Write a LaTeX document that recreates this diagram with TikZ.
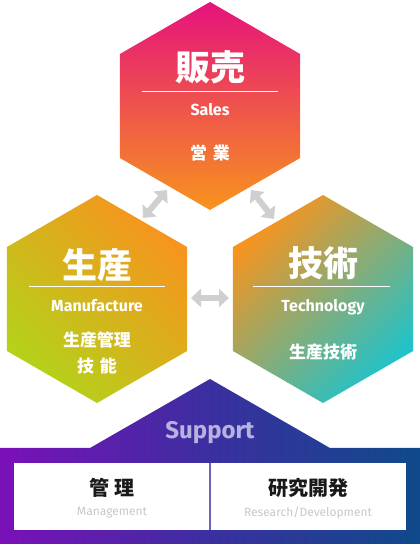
\documentclass[tikz,border=0pt]{standalone}
\usepackage{fontspec}
\setmainfont{Fira Sans}
\newfontfamily\jp{Noto Sans CJK JP}
\usetikzlibrary{arrows.meta}
\definecolor{hexpink}{HTML}{E6127C}
\definecolor{hexorange}{HTML}{F7941D}
\definecolor{hexlime}{HTML}{B4D21A}
\definecolor{hexcyan}{HTML}{1EC3CC}
\definecolor{suppurple}{HTML}{7A10B8}
\definecolor{supblue}{HTML}{0F4A8A}
\definecolor{supmid}{HTML}{3B2FA0}
\definecolor{arrowgray}{HTML}{CFCFCF}
\definecolor{suptext}{HTML}{B8B2E0}
\definecolor{engray}{HTML}{C8C8C8}
\definecolor{divline}{HTML}{6F65B8}
\newcommand\hexpath[1]{(#1) +(90:104) -- +(150:104) -- +(210:104) -- +(270:104) -- +(330:104) -- +(30:104) -- cycle}
\begin{document}
\begin{tikzpicture}[x=1pt,y=1pt,
  title/.style={text=white,font=\jp\bfseries\fontsize{35}{35}\selectfont,inner sep=0pt},
  sub/.style={text=white,font=\bfseries\fontsize{16}{16}\selectfont,inner sep=0pt},
  item/.style={text=white,font=\jp\bfseries\fontsize{17}{17}\selectfont,inner sep=0pt},
  rule/.style={white,line width=1pt},
  link/.style={arrowgray,line width=6pt,{Triangle[width=18pt,length=10pt]}-{Triangle[width=18pt,length=10pt]}},
  boxjp/.style={text=black!90,font=\jp\bfseries\fontsize{20}{20}\selectfont,inner sep=0pt},
  boxen/.style={text=engray,font=\fontsize{12}{12}\selectfont,inner sep=0pt}]
\useasboundingbox (0,0) rectangle (420,544);
\coordinate (sales) at (210,438);
\coordinate (manu) at (97,245);
\coordinate (tech) at (323,245);
\shade[top color=hexpink,bottom color=hexorange] \hexpath{sales};
\shade[top color=hexorange,bottom color=hexlime,shading angle=-45] \hexpath{manu};
\shade[top color=hexorange,bottom color=hexcyan,shading angle=45] \hexpath{tech};
\shade[left color=suppurple,right color=supblue,middle color=supmid]
  (0,0) -- (0,96) -- (90,96) -- (210,165) -- (330,96) -- (420,96) -- (420,0) -- cycle;
\fill[white] (14,14) rectangle (209,81);
\fill[white] (211,14) rectangle (406,81);
\draw[divline,line width=2pt] (210,14) -- (210,81);

\node[title] (salesjp) at (210,477) {販売};
\draw[rule] (142,452) -- (278,452);
\node[sub] (salesen) at (210,434) {Sales};
\node[item] (salesitem) at (210,391) {営\hspace{6pt}業};

\node[title] (manujp) at (97,279) {生産};
\draw[rule] (29,257) -- (165,257);
\node[sub] (manuen) at (97,238) {Manufacture};
\node[item] (manuitem) at (97,204) {生産管理};
\node[item] (manuitem2) at (97,178) {技\hspace{6pt}能};

\node[title] (techjp) at (323,281) {技術};
\draw[rule] (253,257) -- (390,257);
\node[sub] (techen) at (323,237) {Technology};
\node[item] (techitem) at (323,192) {生産技術};

\coordinate (l1) at (143,326);
\coordinate (l2) at (167,354);
\coordinate (r1) at (251,354);
\coordinate (r2) at (274,325);
\coordinate (h1) at (191,246);
\coordinate (h2) at (229,246);
\draw[link] (l1) -- (l2);
\draw[link] (r1) -- (r2);
\draw[link] (h1) -- (h2);

\node[text=suptext,font=\bfseries\fontsize{24}{24}\selectfont,inner sep=0pt] (support) at (210,111) {Support};
\node[boxjp] (kanri) at (112,56) {管\hspace{5pt}理};
\node[boxen] (kanrien) at (112,31) {Management};
\node[boxjp] (kenkyu) at (308,56) {研究開発};
\node[boxen] (kenkyuen) at (308,31) {Research/Development};
\end{tikzpicture}
\end{document}
